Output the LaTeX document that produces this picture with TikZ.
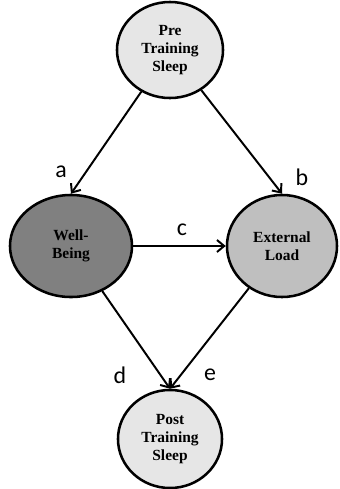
\documentclass[tikz,border=0pt]{standalone}
\usepackage{fontspec}
\setmainfont{Liberation Serif}
\newfontfamily\labelfont{Carlito}
\usetikzlibrary{shapes.geometric,arrows.meta}
\definecolor{lightfill}{HTML}{E6E6E6}
\definecolor{midfill}{HTML}{BFBFBF}
\definecolor{darkfill}{HTML}{808080}
\begin{document}
\begin{tikzpicture}[
    x=0.025cm, y=-0.025cm,
    factor/.style={
        ellipse,
        draw=black,
        line width=1.8pt,
        font=\fontsize{11}{13}\selectfont\bfseries,
        align=center,
        inner sep=0pt
    },
    path/.style={
        -{Straight Barb[length=1.8mm,width=3mm]},
        line width=1.4pt
    },
    letter/.style={
        font=\labelfont\fontsize{17}{19}\selectfont
    }
]

\useasboundingbox (0,0) rectangle (340,489);

\node[factor, fill=lightfill, minimum width=2.65cm, minimum height=2.4cm] (pre) at (170,50) {Pre\\Training\\Sleep};
\node[factor, fill=darkfill, minimum width=3.05cm, minimum height=2.55cm] (well) at (71,246) {Well-\\Being};
\node[factor, fill=midfill, minimum width=2.75cm, minimum height=2.55cm] (load) at (282,246) {External\\Load};
\node[factor, fill=lightfill, minimum width=2.6cm, minimum height=2.45cm] (post) at (170,439) {Post\\Training\\Sleep};

\draw[path] (pre) -- (well.north);
\draw[path] (pre) -- (load.north);
\draw[path] (well) -- (load);
\draw[path] (well) -- (post.north);
\draw[path] (load) -- (post.north);

\node[letter] (la) at (61,172) {a};
\node[letter] (lb) at (302,177) {b};
\node[letter] (lc) at (182,230) {c};
\node[letter] (ld) at (120,375) {d};
\node[letter] (le) at (210,375) {e};

\end{tikzpicture}
\end{document}
